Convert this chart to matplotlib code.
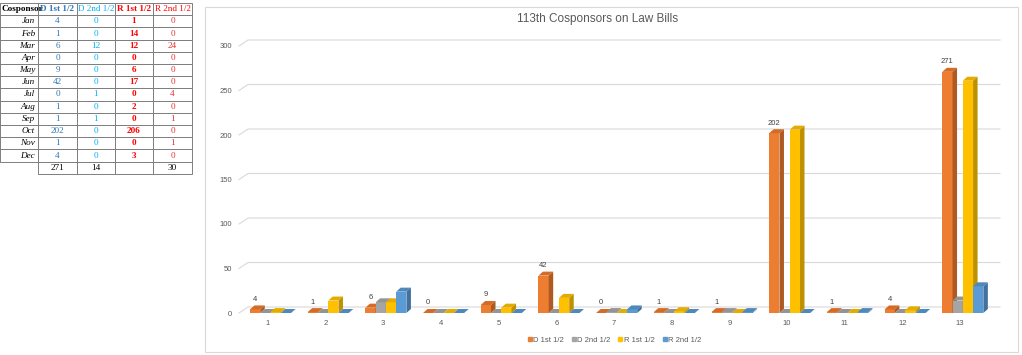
import numpy as np
import matplotlib.pyplot as plt
from matplotlib.patches import Polygon, Rectangle
from matplotlib.lines import Line2D

# -------------------------
# DATA
# -------------------------
months = ["Jan", "Feb", "Mar", "Apr", "May", "Jun",
          "Jul", "Aug", "Sep", "Oct", "Nov", "Dec"]
series_names = ["D 1st 1/2", "D 2nd 1/2", "R 1st 1/2", "R 2nd 1/2"]

d_first = [4, 1, 6, 0, 9, 42, 0, 1, 1, 202, 1, 4]
d_second = [0, 0, 12, 0, 0, 0, 1, 0, 1, 0, 0, 0]
r_first = [1, 14, 12, 0, 6, 17, 0, 2, 0, 206, 0, 3]
r_second = [0, 0, 24, 0, 0, 0, 4, 0, 1, 0, 1, 0]
table_totals = ["271", "14", "", "30"]

categories = [str(i) for i in range(1, 14)]
# chart: 12 months + a 13th column with the totals
chart_series = [d_first + [sum(d_first)],
                d_second + [sum(d_second)],
                r_first + [sum(r_first)],
                r_second + [sum(r_second)]]

yticks = [0, 50, 100, 150, 200, 250, 300]

# -------------------------
# STYLE
# -------------------------
W, H = 1022, 355
face = ["#ED7D31", "#A5A5A5", "#FFC000", "#5B9BD5"]
side = ["#AE5A22", "#7C7C7C", "#BF9000", "#41719C"]
top = ["#D46B27", "#949494", "#E5AC00", "#4F88BC"]
txt_gray = "#595959"
grid_gray = "#D9D9D9"
sans = ["Liberation Sans", "DejaVu Sans"]
serif = ["Liberation Serif", "DejaVu Serif"]

fig = plt.figure(figsize=(W / 100, H / 100), dpi=100)

# -------------------------
# TABLE (pixel coordinates)
# -------------------------
tab = fig.add_axes([0, 0, 1, 1])
tab.set_xlim(0, W)
tab.set_ylim(H, 0)
tab.axis("off")

col_x = [0, 38, 77, 115, 153, 192]
row_top = 3
row_h = 12.2
border = "#7F7F7F"
hdr_colors = ["#2E75B6", "#00B0F0", "#FF0000", "#FF0000"]
hdr_weights = ["bold", "normal", "bold", "normal"]
val_colors = ["#2E75B6", "#00B0F0", "#FF0000", "#E53030"]
val_weights = ["normal", "normal", "bold", "normal"]
table_cols = [d_first, d_second, r_first, r_second]
fs_tab = 6.6

n_rows = len(months) + 2
for r in range(n_rows):
    y0 = row_top + r * row_h
    for c in range(5):
        if r == n_rows - 1 and c == 0:
            continue
        tab.add_patch(Rectangle((col_x[c], y0), col_x[c + 1] - col_x[c], row_h,
                                fill=False, edgecolor=border, lw=0.7))

yc = row_top + row_h / 2
t = tab.text(col_x[0] + 1, yc, "Cosponsor", ha="left", va="center",
             fontsize=fs_tab, fontweight="bold", family=serif)
t.set_clip_path(Rectangle((0, 0), col_x[1], H, transform=tab.transData))
for c, name in enumerate(series_names):
    tab.text((col_x[c + 1] + col_x[c + 2]) / 2, yc, name, ha="center", va="center",
             fontsize=fs_tab, fontweight=hdr_weights[c], color=hdr_colors[c],
             family=serif)

for r, m in enumerate(months):
    yc = row_top + (r + 1.5) * row_h
    tab.text(col_x[1] - 3, yc, m, ha="right", va="center", fontsize=fs_tab,
             fontstyle="italic", family=serif)
    for c in range(4):
        tab.text((col_x[c + 1] + col_x[c + 2]) / 2, yc, str(table_cols[c][r]),
                 ha="center", va="center", fontsize=fs_tab, color=val_colors[c],
                 fontweight=val_weights[c], family=serif)

yc = row_top + (n_rows - 0.5) * row_h
for c in range(4):
    tab.text((col_x[c + 1] + col_x[c + 2]) / 2, yc, table_totals[c],
             ha="center", va="center", fontsize=fs_tab, family=serif)

# chart frame and title
tab.add_patch(Rectangle((205, 7), 1018 - 205, 352 - 7, fill=False,
                        edgecolor=grid_gray, lw=0.8))
tab.text(598, 19, "113th Cosponsors on Law Bills", ha="center", va="center",
         fontsize=8.5, color=txt_gray, family=sans)

# -------------------------
# PSEUDO-3D COLUMN CHART
# -------------------------
x_left_px, x_right_px = 239, 989
y0_px, y300_px = 313, 46
ax = fig.add_axes([x_left_px / W, (H - y0_px) / H,
                   (x_right_px - x_left_px) / W, (y0_px - y300_px) / H])
ax.set_xlim(0.5, len(categories) + 0.5)
ax.set_ylim(0, 300)
for s in ax.spines.values():
    s.set_visible(False)

px_x = len(categories) / (x_right_px - x_left_px)   # data units per pixel
px_y = 300 / (y0_px - y300_px)

# back wall gridlines with a slanted floor edge
gdx, gdy = 9 * px_x, 6 * px_y
for v in yticks:
    ax.add_line(Line2D([0.5, 0.5 + gdx, 13.69], [v, v + gdy, v + gdy],
                       color=grid_gray, lw=0.8, clip_on=False, zorder=0))

ax.set_yticks(yticks)
ax.set_xticks(np.arange(1, len(categories) + 1))
ax.set_xticklabels(categories)
ax.tick_params(axis="both", length=0, labelsize=5.5, labelcolor=txt_gray)
ax.tick_params(axis="y", pad=5)
ax.tick_params(axis="x", pad=5)
for lab in ax.get_xticklabels() + ax.get_yticklabels():
    lab.set_family(sans)

bw = 0.178
start = -0.31
ddx, ddy = 4.5 * px_x, 4 * px_y
xc = np.arange(1, len(categories) + 1)
for j, vals in enumerate(chart_series):
    xl = xc + start + j * bw
    ax.bar(xl, vals, bw, align="edge", color=face[j], zorder=2 + j, linewidth=0)
    for x0, v in zip(xl, vals):
        ax.add_patch(Polygon([(x0, v), (x0 + bw, v), (x0 + bw + ddx, v + ddy),
                              (x0 + ddx, v + ddy)], closed=True,
                             facecolor=top[j], lw=0, zorder=2 + j))
        ax.add_patch(Polygon([(x0 + bw, 0), (x0 + bw + ddx, ddy),
                              (x0 + bw + ddx, v + ddy), (x0 + bw, v)], closed=True,
                             facecolor=side[j], lw=0, zorder=2 + j))
        if j == 0:
            ax.text(x0 + bw / 2, v + 10 * px_y, str(v), ha="center", va="center",
                    fontsize=5.5, color="#404040", zorder=10, family=sans)

handles = [Line2D([0], [0], marker="s", linestyle="", markersize=3.5,
                  markerfacecolor=face[j], markeredgecolor=face[j],
                  label=series_names[j]) for j in range(4)]
fig.legend(handles=handles, loc="center", bbox_to_anchor=(614 / W, (H - 340) / H),
           ncol=4, frameon=False, labelcolor=txt_gray,
           handletextpad=0.05, columnspacing=0.9, handlelength=0.8,
           prop={"family": sans, "size": 5.5})

plt.savefig("out.png", dpi=100)
